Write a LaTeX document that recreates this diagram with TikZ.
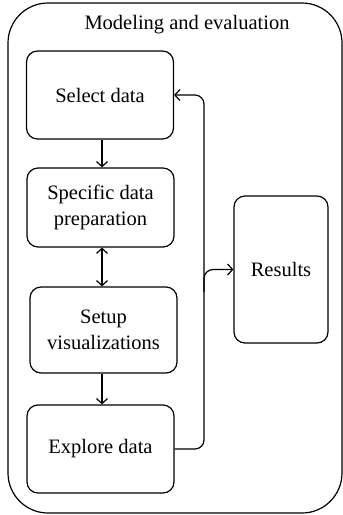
\documentclass[tikz,border=0pt]{standalone}
\usepackage{fontspec}
\setmainfont{Liberation Serif}
\usetikzlibrary{arrows.meta}
\begin{document}
\begin{tikzpicture}[x=1pt,y=-1pt,
  every node/.style={font=\fontsize{20.5}{26}\selectfont},
  stepbox/.style={draw,line width=1.2pt,rounded corners=11pt,minimum width=147pt,align=center,inner sep=0pt},
  conn/.style={line width=1.2pt,-{Straight Barb[length=5pt,width=11pt]}},
  dconn/.style={line width=1.2pt,{Straight Barb[length=5pt,width=11pt]}-{Straight Barb[length=5pt,width=11pt]}}]
\useasboundingbox (0,0) rectangle (343,515);
\draw[line width=1.2pt,rounded corners=40pt] (8,3) rectangle (342,513);
\node (title) at (187,25) {Modeling and evaluation};
\node[stepbox,minimum height=88pt] (select) at (100,95) {Select data};
\node[stepbox,minimum height=79pt] (spec) at (100.5,207.5) {Specific data\\preparation};
\node[stepbox,minimum height=86pt] (setup) at (103.5,330) {Setup\\visualizations};
\node[stepbox,minimum height=88pt] (explore) at (100.5,449) {Explore data};
\node[stepbox,minimum width=94pt,minimum height=147pt] (results) at (281,269.5) {Results};
\draw[conn] (select.south -| 102,0) -- (spec.north -| 102,0);
\draw[dconn] (spec.south -| 102,0) -- (setup.north -| 102,0);
\draw[conn] (setup.south -| 102,0) -- (explore.north -| 102,0);
\coordinate (fb) at (204,270);
\coordinate (br) at (204,292);
\draw[conn,rounded corners=9pt] (explore.east) -| (fb) |- (select.east);
\draw[conn,rounded corners=9pt] (br) |- (results.west);
\end{tikzpicture}
\end{document}
